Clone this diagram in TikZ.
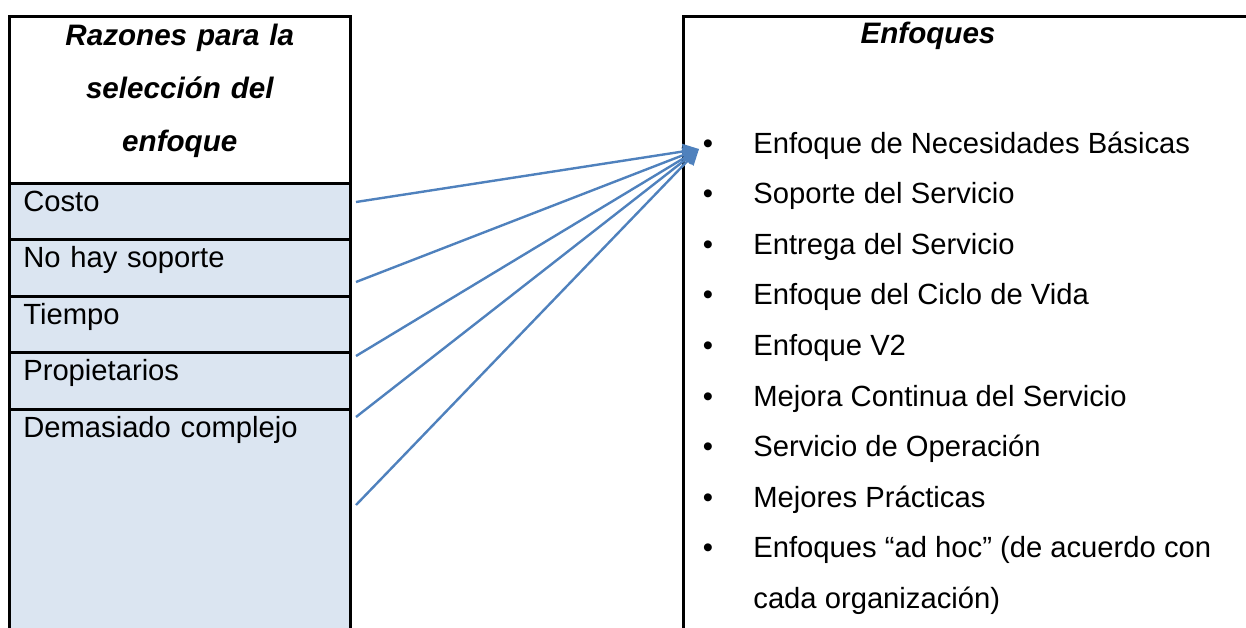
\documentclass[tikz,border=0pt]{standalone}
\usepackage{fontspec}
\setmainfont{Liberation Sans}
\usetikzlibrary{arrows.meta}
\definecolor{celda}{HTML}{DBE5F1}
\definecolor{flecha}{HTML}{4F81BD}
\tikzset{
  texto/.style={font=\fontsize{14.6}{25.3}\selectfont},
  fila/.style={texto, draw, line width=1.3pt, fill=celda, anchor=north west,
    inner xsep=7pt, inner ysep=0pt, text width=156.5pt, align=left,
    text height=14pt, text depth=14.25pt},
  cabecera/.style={draw, line width=1.3pt, anchor=north west, inner xsep=7pt,
    inner ysep=0pt, text width=156.5pt, align=center,
    font=\fontsize{14.8}{26.5}\selectfont\bfseries\itshape,
    text height=14.5pt, text depth=69pt},
  caja/.style={draw, line width=1.3pt, anchor=north west, minimum width=340pt,
    minimum height=330pt},
  titulo/.style={font=\fontsize{14.8}{17}\selectfont\bfseries\itshape, anchor=base},
  vineta/.style={texto, anchor=base, inner sep=0pt},
  item/.style={texto, anchor=base west, inner sep=0pt},
  conecta/.style={draw=flecha, line width=1.2pt, -{Triangle[length=8pt,width=7.5pt]}}
}
\begin{document}
\begin{tikzpicture}[x=0.5pt,y=-0.5pt]
    \clip (0,0) rectangle (1246,627);
    % left table
    \node[cabecera] (razones) at (8,15) {Razones para la\\selección del\\enfoque};
    \node[fila] (costo) at (8,182) {Costo};
    \node[fila, text depth=14.75pt] (soporte) at (8,238) {No hay soporte};
    \node[fila] (tiempo) at (8,295) {Tiempo};
    \node[fila, text depth=14.75pt] (propiet) at (8,351) {Propietarios};
    \node[fila, text depth=102pt] (complejo) at (8,408) {Demasiado complejo};
    % right box
    \node[caja] (enfoques) at (682,15) {};
    \node[titulo] (tenf) at (928,43) {Enfoques};
    \foreach \t [count=\i] in {Enfoque de Necesidades Básicas, Soporte del Servicio,
        Entrega del Servicio, Enfoque del Ciclo de Vida, Enfoque V2,
        Mejora Continua del Servicio, Servicio de Operación, Mejores Prácticas,
        Enfoques “ad hoc” (de acuerdo con}{
      \node[vineta] (b\i) at (708,{153+50.6*(\i-1)}) {\textbullet};
      \node[item] (e\i) at (753,{153+50.6*(\i-1)}) {\t};
    }
    \node[item] (e9b) at (753,608.4) {cada organización)};
    % arrows
    \coordinate (tip) at (699,149);
    \coordinate (a1) at (356,202);
    \coordinate (a2) at (356,282);
    \coordinate (a3) at (356,356);
    \coordinate (a4) at (356,417);
    \coordinate (a5) at (356,505);
    \foreach \a in {a1,a2,a3,a4,a5}
      \draw[conecta] (\a) -- (tip);
\end{tikzpicture}
\end{document}
